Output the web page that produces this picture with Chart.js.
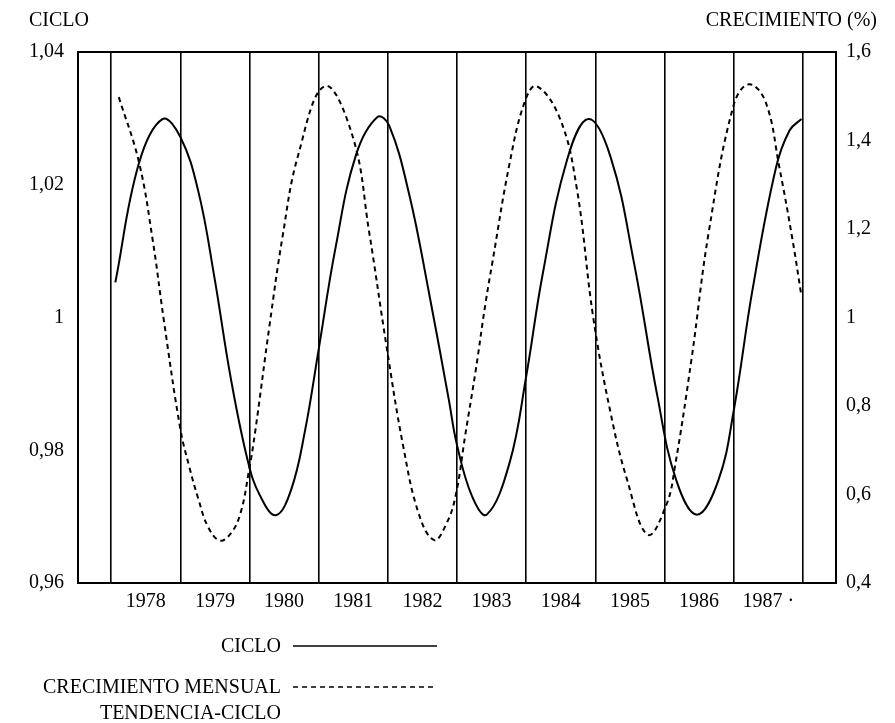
<!DOCTYPE html>
<html>
<head>
<meta charset="utf-8">
<script src="https://cdn.jsdelivr.net/npm/chart.js@4.4.1/dist/chart.umd.min.js"></script>
<style>
html,body{margin:0;padding:0;background:#fff;}
#wrap{width:895px;height:723px;position:relative;}
</style>
</head>
<body>
<div id="wrap"><canvas id="c" width="895" height="723"></canvas></div>
<script>
// ---- Data ----
const yearLabels = ['1978','1979','1980','1981','1982','1983','1984','1985','1986','1987 ·',''];
const yearStarts = [1978,1979,1980,1981,1982,1983,1984,1985,1986,1987,1988];

const leftTickValues = [0.96, 0.98, 1.00, 1.02, 1.04];
const leftTickLabels = ['0,96','0,98','1','1,02','1,04'];
const rightTickValues = [0.4, 0.6, 0.8, 1.0, 1.2, 1.4, 1.6];
const rightTickLabels = ['0,4','0,6','0,8','1','1,2','1,4','1,6'];

// CICLO (left axis)
const cicloTime = [1978.06,1978.40,1978.74,1979.00,1979.26,1979.49,1979.73,1979.98,1980.15,1980.38,1980.60,1980.80,
  1981.00,1981.24,1981.54,1981.85,1982.02,1982.31,1982.59,1982.88,1983.00,1983.22,1983.43,1983.76,
  1984.00,1984.24,1984.59,1984.90,1985.22,1985.56,1985.90,1986.17,1986.47,1986.78,1987.00,1987.27,
  1987.61,1987.81,1987.98];
const cicloValue = [1.0053,1.0232,1.0299,1.0272,1.0190,1.0062,0.9908,0.9782,0.9732,0.9702,0.9740,0.9828,
  0.9952,1.0103,1.0245,1.0302,1.0289,1.0185,1.0040,0.9877,0.9808,0.9730,0.9703,0.9781,
  0.9911,1.0066,1.0237,1.0299,1.0242,1.0082,0.9880,0.9755,0.9703,0.9755,0.9859,1.0040,
  1.0225,1.0282,1.0299];

// CRECIMIENTO MENSUAL TENDENCIA-CICLO (right axis, %)
const crecTime = [1978.11,1978.40,1978.60,1978.76,1979.00,1979.13,1979.26,1979.40,1979.57,1979.73,1979.87,1979.99,
  1980.08,1980.29,1980.48,1980.70,1981.09,1981.49,1981.73,1981.98,1982.22,1982.45,1982.67,1982.85,1982.98,
  1983.12,1983.27,1983.41,1983.51,1983.76,1983.98,1984.15,1984.49,1984.73,1984.97,1985.22,1985.46,
  1985.76,1986.03,1986.15,1986.39,1986.64,1987.00,1987.22,1987.46,1987.66,1987.85,1987.98];
const crecValue = [1.498,1.352,1.175,0.995,0.748,0.662,0.590,0.527,0.496,0.512,0.558,0.652,
  0.740,0.983,1.185,1.365,1.523,1.410,1.193,0.936,0.711,0.555,0.497,0.535,0.597,
  0.735,0.880,1.030,1.123,1.348,1.488,1.523,1.449,1.294,1.000,0.785,0.633,
  0.509,0.578,0.662,0.905,1.193,1.480,1.527,1.488,1.340,1.177,1.049];

const seriesNames = ['CICLO', 'CRECIMIENTO MENSUAL TENDENCIA-CICLO'];
const legendLines = [['CICLO'], ['CRECIMIENTO MENSUAL', 'TENDENCIA-CICLO']];
const leftTitle = 'CICLO';
const rightTitle = 'CRECIMIENTO (%)';

const FONT = "'Liberation Serif', 'Times New Roman', serif";

const toPts = (xs, ys) => xs.map((x, i) => ({x: x, y: ys[i]}));

const framePlugin = {
  id: 'frame',
  afterDraw(chart) {
    const ctx = chart.ctx;
    const a = chart.chartArea;
    ctx.save();
    ctx.strokeStyle = '#000';
    ctx.lineWidth = 2;
    ctx.strokeRect(a.left, a.top, a.right - a.left, a.bottom - a.top);

    ctx.fillStyle = '#000';
    ctx.font = '20px ' + FONT;
    ctx.textBaseline = 'middle';
    ctx.textAlign = 'left';
    ctx.fillText(leftTitle, 29, 21);
    ctx.textAlign = 'right';
    ctx.fillText(rightTitle, 877, 21);

    // legend
    const ds = chart.data.datasets;
    const rows = [646, 687];
    for (let i = 0; i < ds.length; i++) {
      const y = rows[i];
      ctx.textAlign = 'right';
      ctx.fillStyle = '#000';
      legendLines[i].forEach((t, k) => ctx.fillText(t, 281, y + 1 + k * 26));
      ctx.beginPath();
      ctx.setLineDash(ds[i].borderDash || []);
      ctx.lineWidth = 1.6;
      ctx.strokeStyle = '#000';
      ctx.moveTo(293, y);
      ctx.lineTo(437, y);
      ctx.stroke();
    }
    ctx.restore();
  }
};

new Chart(document.getElementById('c'), {
  type: 'line',
  data: {
    datasets: [
      {
        label: seriesNames[0],
        data: toPts(cicloTime, cicloValue),
        yAxisID: 'y',
        borderColor: '#000',
        borderWidth: 2,
        pointRadius: 0,
        tension: 0.4,
        fill: false
      },
      {
        label: seriesNames[1],
        data: toPts(crecTime, crecValue),
        yAxisID: 'y1',
        borderColor: '#000',
        borderWidth: 2,
        borderDash: [5, 4],
        pointRadius: 0,
        tension: 0.4,
        fill: false
      }
    ]
  },
  options: {
    responsive: false,
    animation: false,
    layout: { padding: { top: 52, left: 0, right: 0, bottom: 0 } },
    plugins: { legend: { display: false }, tooltip: { enabled: false } },
    scales: {
      x: {
        type: 'linear',
        min: 1977.52,
        max: 1988.48,
        afterBuildTicks: s => { s.ticks = yearStarts.map(v => ({value: v})); },
        afterFit: s => { s.height = 140; },
        grid: { display: true, color: '#000', lineWidth: 1.6, drawTicks: false },
        border: { display: false },
        ticks: {
          autoSkip: false,
          maxRotation: 0,
          labelOffset: 34.6,
          padding: 7,
          color: '#000',
          font: { family: FONT, size: 20 },
          callback: (v, i) => yearLabels[i]
        }
      },
      y: {
        position: 'left',
        min: 0.96,
        max: 1.04,
        afterBuildTicks: s => { s.ticks = leftTickValues.map(v => ({value: v})); },
        afterFit: s => { s.width = 78; },
        grid: { display: false, drawTicks: false },
        border: { display: false },
        ticks: {
          padding: 14,
          color: '#000',
          font: { family: FONT, size: 20 },
          callback: (v, i) => leftTickLabels[i]
        }
      },
      y1: {
        position: 'right',
        min: 0.4,
        max: 1.6,
        afterBuildTicks: s => { s.ticks = rightTickValues.map(v => ({value: v})); },
        afterFit: s => { s.width = 59; },
        grid: { display: false, drawTicks: false },
        border: { display: false },
        ticks: {
          padding: 10,
          color: '#000',
          font: { family: FONT, size: 20 },
          callback: (v, i) => rightTickLabels[i]
        }
      }
    }
  },
  plugins: [framePlugin]
});
</script>
</body>
</html>
